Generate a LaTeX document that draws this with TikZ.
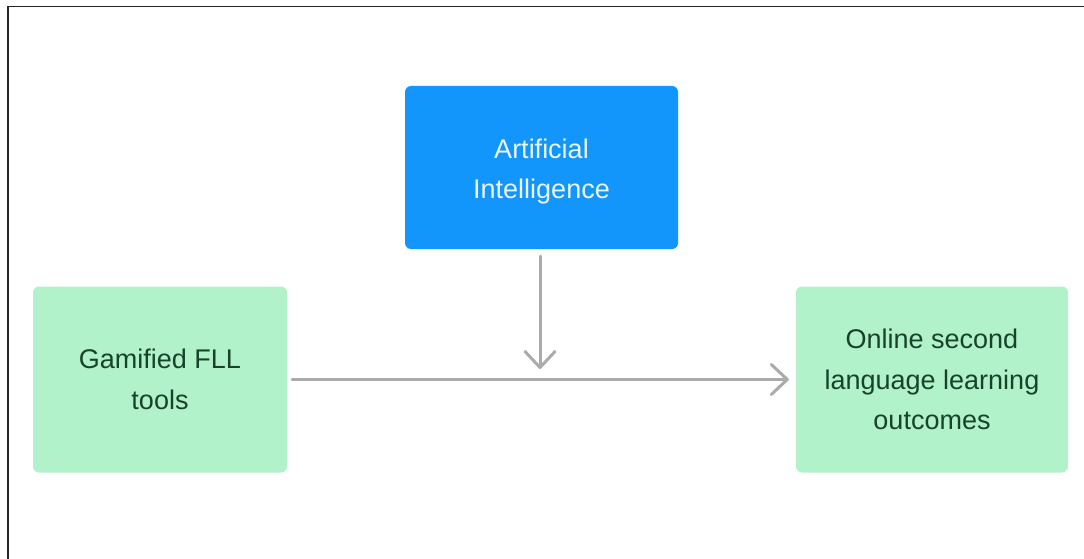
\documentclass[tikz,border=0pt]{standalone}
\usepackage{fontspec}
\setmainfont{Liberation Sans}
\usetikzlibrary{arrows.meta}
\definecolor{aiblue}{HTML}{1296FC}
\definecolor{aitext}{HTML}{EAF5FF}
\definecolor{boxgreen}{HTML}{B1F2CA}
\definecolor{txtgreen}{HTML}{17432A}
\definecolor{arrowgray}{HTML}{ABABAB}
% lower a line of text inside its box, keeping the box's own size
\newcommand{\lowered}[1]{\raisebox{-4pt}[\height][\depth]{#1}}
\begin{document}
\begin{tikzpicture}[x=1pt,y=-1pt,
  box/.style={rectangle, rounded corners=6pt, inner sep=0pt, align=center,
    font=\fontsize{27}{40.5}\selectfont},
  aibox/.style={box, fill=aiblue, text=aitext},
  greenbox/.style={box, fill=boxgreen, text=txtgreen},
  link/.style={draw=arrowgray, line width=3pt, line cap=round,
    -{Straight Barb[length=16pt, width=30pt, line cap=round, line join=round]}}]
\useasboundingbox (0,0) rectangle (1084,559);
% frame along the top and left edges
\draw[line width=1.6pt, black!85] (8,559) -- (8,6.5) -- (1084,6.5);

\node[aibox, minimum width=273pt, minimum height=163pt] (ai) at (541.5,167.5)
  {\lowered{Artificial}\\\lowered{Intelligence}};
\node[greenbox, minimum width=254pt, minimum height=186pt] (gam) at (160,379.5)
  {Gamified FLL\\tools};
\node[greenbox, minimum width=272pt, minimum height=186pt] (out) at (932,379.5)
  {Online second\\language learning\\outcomes};

\coordinate (meet) at (540,369);
\draw[link] ([xshift=5pt]gam.east) -- ([xshift=-7pt]out.west);
\draw[link] ([yshift=-7pt]ai.south -| meet) -- (meet);
\end{tikzpicture}
\end{document}
